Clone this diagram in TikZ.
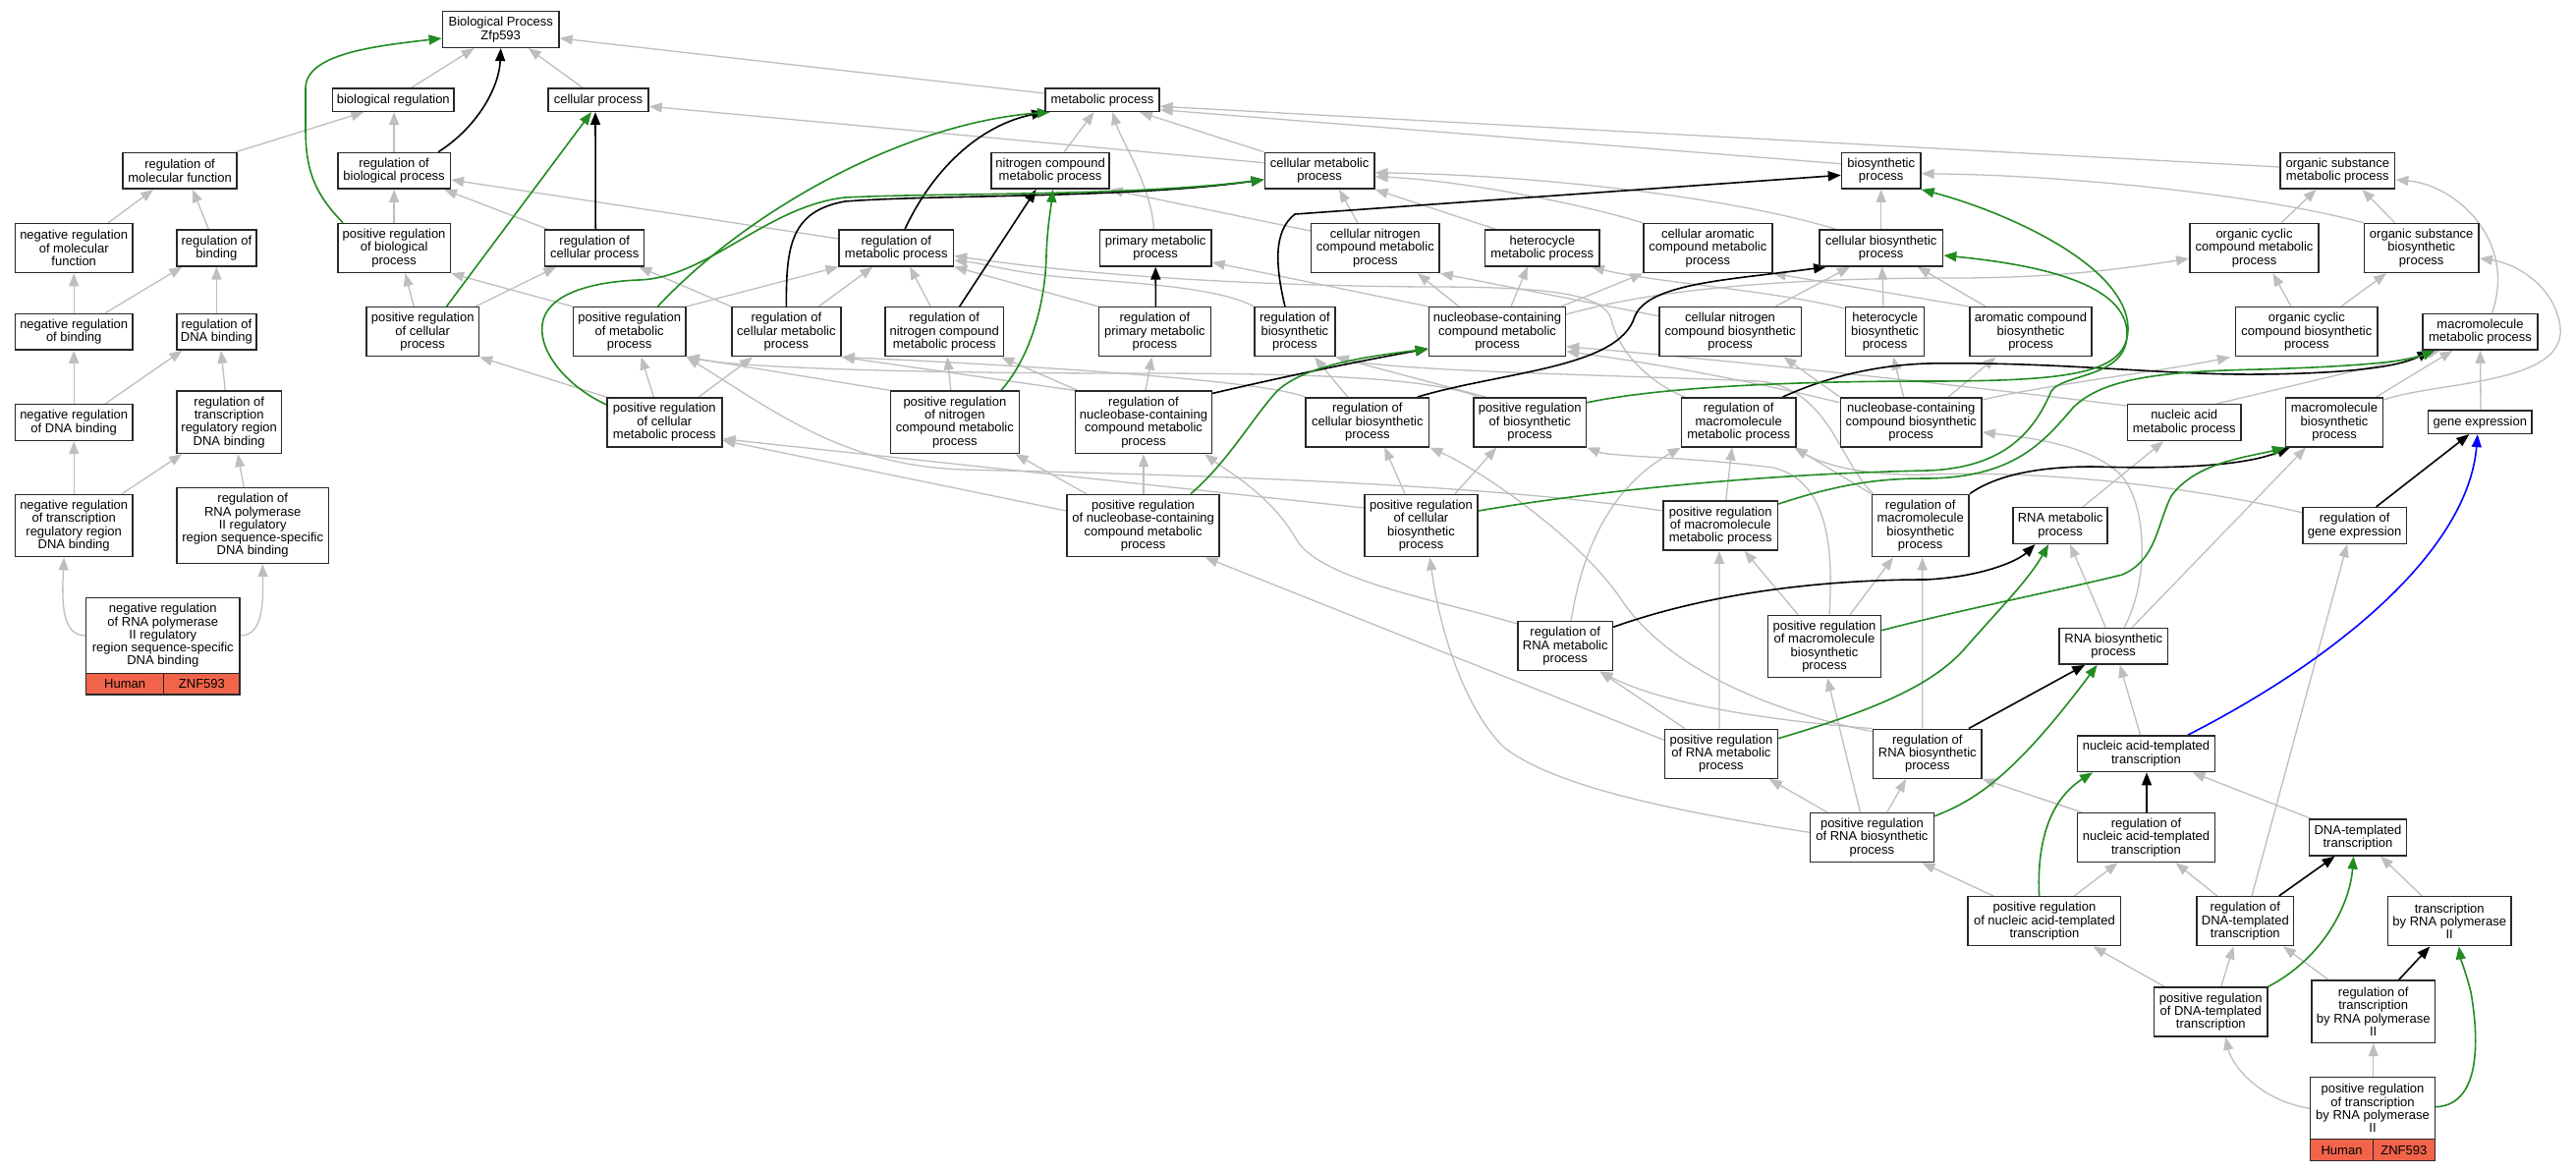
\documentclass[tikz,border=0pt]{standalone}
\usepackage{fontspec}
\setmainfont{Liberation Sans}
\usetikzlibrary{arrows.meta,calc}
\definecolor{egray}{RGB}{190,190,190}
\definecolor{egreen}{RGB}{34,139,34}
\definecolor{tomato}{RGB}{242,100,74}
\definecolor{bord}{RGB}{40,40,40}
\pgfdeclarelayer{back}
\pgfdeclarelayer{edges}
\pgfsetlayers{back,edges,main}
\newcommand{\gvfont}{\fontsize{13}{13.3}\selectfont}
\newcommand{\gobox}[6]{\node[gobox,minimum width=#4pt,minimum height=#5pt] (#1) at (#2,#3) {#6};}
\newcommand{\goup}[5][eisa]{\draw[#1] ($(#2.north)+(#3,0)$) -- ($(#4.south)+(#5,0)$);}
\begin{document}
\begin{tikzpicture}[x=1pt,y=-1pt,
 gobox/.style={draw=bord,line width=1.5pt,fill=white,inner sep=0pt,align=center,font=\gvfont},
 cell/.style={draw=bord,line width=1.5pt,fill=tomato,inner sep=0pt,font=\gvfont},
 eisa/.style={draw=egray,line width=1.3pt,-{Triangle[length=13pt,width=10pt]}},
 ereg/.style={draw=black,line width=1.6pt,-{Triangle[length=13pt,width=10pt]}},
 epos/.style={draw=egreen,line width=1.6pt,-{Triangle[length=13pt,width=10pt]}},
 epart/.style={draw=blue,line width=1.6pt,-{Triangle[length=13pt,width=10pt]}}]
\useasboundingbox (0,0) rectangle (2622,1192);
\begin{pgfonlayer}{back}
\fill[white] (0,0) rectangle (2622,1192);
\end{pgfonlayer}
% ---------- nodes ----------
\gobox{bp}{509.7}{30}{118.7}{36.7}{Biological Process\\Zfp593}
\gobox{breg}{400.3}{101.7}{123.7}{23.3}{biological regulation}
\gobox{cellp}{609}{101.7}{102}{23.3}{cellular process}
\gobox{metab}{1121.9}{101.7}{116.2}{23.3}{metabolic process}
\gobox{rmf}{183.1}{173.8}{116.2}{36.7}{regulation of\\molecular function}
\gobox{rbp}{401.1}{173.8}{114.4}{36.7}{regulation of\\biological process}
\gobox{ncmp}{1069.1}{173.8}{120}{36.7}{nitrogen compound\\metabolic process}
\gobox{cmp}{1343.1}{173.8}{111.6}{36.7}{cellular metabolic\\process}
\gobox{bsp}{1914.7}{173.8}{80.4}{36.7}{biosynthetic\\process}
\gobox{osmp}{2379.3}{173.8}{116.6}{36.7}{organic substance\\metabolic process}
\gobox{nrmf}{75.2}{252.5}{119.1}{50}{negative regulation\\of molecular\\function}
\gobox{rbind}{220.4}{252.5}{81.3}{36.7}{regulation of\\binding}
\gobox{prbp}{401.1}{252.5}{114.4}{50}{positive regulation\\of biological\\process}
\gobox{rcp}{605.2}{252.5}{101}{36.7}{regulation of\\cellular process}
\gobox{rmp}{912.3}{252.5}{116.2}{36.7}{regulation of\\metabolic process}
\gobox{pmp}{1176.2}{252.5}{113.6}{36.7}{primary metabolic\\process}
\gobox{cncmp}{1399.8}{252.5}{130.5}{50}{cellular nitrogen\\compound metabolic\\process}
\gobox{hmp}{1569.8}{252.5}{116.2}{36.7}{heterocycle\\metabolic process}
\gobox{camp}{1738.4}{252.5}{130.9}{50}{cellular aromatic\\compound metabolic\\process}
\gobox{cbp}{1914.7}{252.5}{125.8}{36.7}{cellular biosynthetic\\process}
\gobox{occmp}{2294.5}{252.5}{131.4}{50}{organic cyclic\\compound metabolic\\process}
\gobox{osbp}{2464.7}{252.5}{116.6}{50}{organic substance\\biosynthetic\\process}
\gobox{nrbind}{75.2}{337.7}{119.1}{36.7}{negative regulation\\of binding}
\gobox{rdnab}{220.4}{337.7}{81.3}{36.7}{regulation of\\DNA binding}
\gobox{prcp}{430.2}{337.7}{114.5}{50}{positive regulation\\of cellular\\process}
\gobox{prmp}{640.7}{337.7}{114.7}{50}{positive regulation\\of metabolic\\process}
\gobox{rcmp}{800.4}{337.7}{111.1}{50}{regulation of\\cellular metabolic\\process}
\gobox{rncmp}{961.2}{337.7}{120.3}{50}{regulation of\\nitrogen compound\\metabolic process}
\gobox{rpmp}{1175.4}{337.7}{113.7}{50}{regulation of\\primary metabolic\\process}
\gobox{rbsp}{1317.9}{337.7}{82.1}{50}{regulation of\\biosynthetic\\process}
\gobox{nccmp}{1524}{337.7}{138.9}{50}{nucleobase-containing\\compound metabolic\\process}
\gobox{cncbp}{1761.1}{337.7}{144.4}{50}{cellular nitrogen\\compound biosynthetic\\process}
\gobox{hbp}{1918.5}{337.7}{80.4}{50}{heterocycle\\biosynthetic\\process}
\gobox{acbp}{2067}{337.7}{124.2}{50}{aromatic compound\\biosynthetic\\process}
\gobox{occbp}{2347.8}{337.7}{144.3}{50}{organic cyclic\\compound biosynthetic\\process}
\gobox{mmp}{2524.5}{337.7}{116.6}{36.7}{macromolecule\\metabolic process}
\gobox{nrdnab}{75.2}{430}{119.1}{36.7}{negative regulation\\of DNA binding}
\gobox{rtrdb}{233.2}{429.8}{106.9}{63.3}{regulation of\\transcription\\regulatory region\\DNA binding}
\gobox{prcmp}{676.3}{429.8}{116.9}{50}{positive regulation\\of cellular\\metabolic process}
\gobox{prncmp}{971.9}{429.8}{130.9}{63.3}{positive regulation\\of nitrogen\\compound metabolic\\process}
\gobox{rnccmp}{1164}{429.8}{138.9}{63.3}{regulation of\\nucleobase-containing\\compound metabolic\\process}
\gobox{rcbp}{1391.8}{429.8}{125.5}{50}{regulation of\\cellular biosynthetic\\process}
\gobox{prbsp}{1557.2}{429.8}{114.5}{50}{positive regulation\\of biosynthetic\\process}
\gobox{rmmp}{1769.7}{429.8}{116.2}{50}{regulation of\\macromolecule\\metabolic process}
\gobox{nccbp}{1945.2}{429.8}{143.9}{50}{nucleobase-containing\\compound biosynthetic\\process}
\gobox{namp}{2223.2}{430}{115.7}{36.7}{nucleic acid\\metabolic process}
\gobox{mbp}{2376}{429.8}{98.9}{50}{macromolecule\\biosynthetic\\process}
\gobox{gexp}{2524.3}{429.7}{105.2}{23.3}{gene expression}
\gobox{nrtrdb}{75.2}{535}{119.1}{63.3}{negative regulation\\of transcription\\regulatory region\\DNA binding}
\gobox{rrp2}{257.2}{535}{154.9}{76.7}{regulation of\\RNA polymerase\\II regulatory\\region sequence-specific\\DNA binding}
\gobox{prnccmp}{1163.6}{535}{154.9}{63.3}{positive regulation\\of nucleobase-containing\\compound metabolic\\process}
\gobox{prcbp}{1446.5}{535}{115.3}{63.3}{positive regulation\\of cellular\\biosynthetic\\process}
\gobox{prmmp}{1751.2}{535}{116.2}{50}{positive regulation\\of macromolecule\\metabolic process}
\gobox{rmbp}{1954.7}{535}{98.9}{63.3}{regulation of\\macromolecule\\biosynthetic\\process}
\gobox{rnamp}{2097.1}{535}{96}{36.7}{RNA metabolic\\process}
\gobox{rge}{2396.6}{535}{105.7}{36.7}{regulation of\\gene expression}
\gobox{nrp2}{165.8}{647}{156.6}{76.7}{negative regulation\\of RNA polymerase\\II regulatory\\region sequence-specific\\DNA binding}
\node[cell,minimum width=79.2pt,minimum height=21.7pt] (nrp2h) at (127.1,696.2) {Human};
\node[cell,minimum width=77.4pt,minimum height=21.7pt] (nrp2z) at (205.4,696.2) {ZNF593};
\gobox{rrnamp}{1593.2}{657.7}{96.3}{50}{regulation of\\RNA metabolic\\process}
\gobox{prmbp}{1857}{658}{114.9}{63.3}{positive regulation\\of macromolecule\\biosynthetic\\process}
\gobox{rnabp}{2151.2}{657.7}{110.7}{36.7}{RNA biosynthetic\\process}
\gobox{prrnamp}{1751.9}{767.3}{114.9}{50}{positive regulation\\of RNA metabolic\\process}
\gobox{rrnabp}{1961.8}{767.3}{110.6}{50}{regulation of\\RNA biosynthetic\\process}
\gobox{nat}{2184.5}{767.2}{140.1}{36.7}{nucleic acid-templated\\transcription}
\gobox{prrnabp}{1905.4}{852.5}{125.8}{50}{positive regulation\\of RNA biosynthetic\\process}
\gobox{rnat}{2184.5}{852.5}{140.1}{50}{regulation of\\nucleic acid-templated\\transcription}
\gobox{dtt}{2400}{852.5}{98.9}{36.7}{DNA-templated\\transcription}
\gobox{prnat}{2080.9}{937.7}{155.4}{50}{positive regulation\\of nucleic acid-templated\\transcription}
\gobox{rdtt}{2285.3}{937.7}{98.5}{50}{regulation of\\DNA-templated\\transcription}
\gobox{trp2}{2493.2}{937.7}{125.5}{50}{transcription\\by RNA polymerase\\II}
\gobox{prdtt}{2250.3}{1030}{115.4}{50}{positive regulation\\of DNA-templated\\transcription}
\gobox{rtrp2}{2415.7}{1029.7}{125.4}{63.3}{regulation of\\transcription\\by RNA polymerase\\II}
\gobox{prtrp2}{2415}{1128}{126.7}{63.3}{positive regulation\\of transcription\\by RNA polymerase\\II}
\node[cell,minimum width=63.6pt,minimum height=22pt] (prtrp2h) at (2383.5,1170.7) {Human};
\node[cell,minimum width=63.1pt,minimum height=22pt] (prtrp2z) at (2446.85,1170.7) {ZNF593};
% ---------- edges ----------
\begin{pgfonlayer}{edges}
% straight is_a edges
\goup{breg}{18.5}{bp}{-27}
\goup{cellp}{-16}{bp}{28}
\goup{rmf}{57}{breg}{-30}
\goup{rbp}{0}{breg}{0.8}
\goup{nrmf}{35}{rmf}{-27}
\goup{rbind}{-8}{rmf}{13}
\goup{nrbind}{0}{nrmf}{0}
\goup{nrbind}{32}{rbind}{-35}
\goup{rdnab}{0}{rbind}{0}
\goup{prbp}{0}{rbp}{0}
\goup{rcp}{-47.5}{rbp}{51}
\goup{prcp}{-9}{prbp}{11.4}
\goup{prcp}{54}{rcp}{-39}
\goup{ncmp}{14}{metab}{-8.4}
\goup{rncmp}{-14}{rmp}{13.7}
\goup{rcmp}{33}{rmp}{-24}
\goup{cncmp}{-18}{cmp}{20}
\goup{cbp}{0}{bsp}{0}
\goup{nccmp}{-39}{cncmp}{43}
\goup{nccmp}{14}{hmp}{-15}
\goup{cncbp}{46}{cbp}{-31.7}
\goup{hbp}{-1.5}{cbp}{1}
\goup{acbp}{-46}{cbp}{37}
\goup{occmp}{27.5}{osmp}{-21.7}
\goup{osbp}{-27}{osmp}{25}
\goup{occbp}{-15.8}{occmp}{19}
\goup{occbp}{35}{osbp}{-35.7}
\goup{nrdnab}{0}{nrbind}{0}
\goup{nrdnab}{32}{rdnab}{-35}
\goup{rtrdb}{-4}{rdnab}{4.6}
\goup{nrtrdb}{0}{nrdnab}{0}
\goup{nrtrdb}{49}{rtrdb}{-48}
\goup{rrp2}{-9}{rtrdb}{8.8}
\goup{rnccmp}{2}{rpmp}{-3}
\goup{prcmp}{-11}{prmp}{12}
\goup{prcmp}{35}{rcmp}{-34.4}
\goup{prncmp}{-4}{rncmp}{3}
\goup{prnccmp}{0.4}{rnccmp}{0}
\goup{prnccmp}{-58}{prncmp}{61.6}
\goup{rcbp}{-20}{rbsp}{20}
\goup{prcbp}{-16.5}{rcbp}{17.5}
\goup{prcbp}{34.5}{prbsp}{-34}
\goup{prmmp}{5.5}{rmmp}{-6.7}
\goup{nccbp}{-7.6}{hbp}{8.5}
\goup{nccbp}{38}{acbp}{-35.6}
\goup{rnamp}{23}{namp}{-21}
\goup{gexp}{0.7}{mmp}{0}
\goup{prmbp}{26}{rmbp}{-27.7}
\goup{prmbp}{-27}{prmmp}{24.4}
\goup{prrnamp}{-37}{rrnamp}{35}
\goup{prrnamp}{-2}{prmmp}{-1.2}
\goup{rrnabp}{-5}{rmbp}{2}
\goup{rnabp}{-8}{rnamp}{10}
\goup{rnabp}{19}{mbp}{-29}
\goup{nat}{-6}{rnabp}{6.5}
\goup{prrnabp}{15.4}{rrnabp}{-21.8}
\goup{prrnabp}{-45.6}{prrnamp}{49}
\goup{prrnabp}{-12}{prmbp}{3}
\goup{prnat}{30.5}{rnat}{-29}
\goup{prnat}{-52}{prrnabp}{51}
\goup{rdtt}{-28.7}{rnat}{30}
\goup{rdtt}{6.7}{rge}{-7.6}
\goup{trp2}{-28}{dtt}{23}
\goup{prdtt}{10.5}{rdtt}{-12}
\goup{rtrp2}{-45.7}{rdtt}{38.7}
\goup{prtrp2}{0.7}{rtrp2}{0}
\goup{namp}{33.4}{mmp}{-40.5}
\goup{mbp}{42.6}{mmp}{-28}
% other is_a edges
\draw[eisa] ($(metab.west)+(0,-6.7)$) -- ($(bp.east)+(0,9)$);
\draw[eisa] ($(rmp.west)+(0,-9.5)$) -- ($(rbp.east)+(0,9.2)$);
\draw[eisa] (prmp.north west) -- (prbp.south east);
\draw[eisa] (rcmp.north west) -- ($(rcp.south)+(45,0)$);
\draw[eisa] (prmp.north east) -- (rmp.south west);
\draw[eisa] (rpmp.north west) -- (rmp.south east);
\draw[eisa] (cmp.north west) -- ($(metab.south)+(38,0)$);
\draw[eisa] ($(cmp.west)+(0,-8.1)$) -- ($(cellp.east)+(0,6.6)$);
\draw[eisa] ($(bsp.west)+(0,-7.1)$) -- ($(metab.east)+(0,10)$);
\draw[eisa] ($(osmp.west)+(0,-3.8)$) -- ($(metab.east)+(0,6.6)$);
\draw[eisa] ($(pmp.north)+(-1.7,0)$) .. controls (1172,190) and (1140,140) .. ($(metab.south)+(10.5,0)$);
\draw[eisa] (nccmp.north west) -- ($(pmp.east)+(0,14.5)$);
\draw[eisa] ($(cncmp.west)+(0,-17.5)$) -- (ncmp.south east);
\draw[eisa] ($(hmp.north)+(-47,0)$) -- (cmp.south east);
\draw[eisa] (camp.north west) .. controls (1600,205) and (1480,183) .. ($(cmp.east)+(0,6)$);
\draw[eisa] ($(cbp.north west)+(18,0)$) .. controls (1760,200) and (1560,178) .. ($(cmp.east)+(0,2)$);
\draw[eisa] ($(nccmp.north east)+(-5,0)$) -- (camp.south west);
\draw[eisa] ($(nccmp.east)+(0,-17.7)$) .. controls (1700,290) and (1850,283) .. (1990,283) .. controls (2100,283) and (2170,272) .. ($(occmp.west)+(0,10.8)$);
\draw[eisa] ($(cncbp.west)+(0,-16)$) -- (cncmp.south east);
\draw[eisa] ($(hbp.north west)+(0,2)$) .. controls (1800,295) and (1680,287) .. ($(hmp.south)+(50,0)$);
\draw[eisa] (acbp.north west) -- (camp.south east);
\draw[eisa] (osbp.north west) .. controls (2300,198) and (2100,178) .. ($(bsp.east)+(0,3)$);
\draw[eisa] ($(mmp.north)+(12,0)$) .. controls (2562,245) and (2500,188) .. ($(osmp.east)+(0,9.2)$);
\draw[eisa] (rbsp.north west) .. controls (1240,292) and (1150,288) .. (1080,282) .. controls (1030,277) and (1000,268) .. ($(rmp.east)+(0,12.5)$);
\draw[eisa] ($(rmmp.north west)+(4,0)$) .. controls (1680,390) and (1648,360) .. (1640,325) .. controls (1632,296) and (1560,292) .. (1450,292) .. controls (1200,290) and (1050,272) .. ($(rmp.east)+(0,8)$);
\draw[eisa] (rnccmp.north west) -- (rcmp.south east);
\draw[eisa] ($(rnccmp.north west)+(3,0)$) -- ($(rncmp.south)+(58,0)$);
\draw[eisa] (prcmp.north west) -- (prcp.south east);
\draw[eisa] (prncmp.north west) -- (prmp.south east);
\draw[eisa] ($(prnccmp.west)+(0,-15)$) -- ($(prcmp.east)+(0,18.5)$);
\draw[eisa] (rcbp.north west) .. controls (1280,385) and (1000,370) .. (rcmp.south east);
\draw[eisa] ($(prbsp.north west)+(13,0)$) -- (rbsp.south east);
\draw[eisa] ($(prbsp.north west)+(6,0)$) .. controls (1450,382) and (1300,380) .. (1150,380) .. controls (950,380) and (760,375) .. (prmp.south east);
\draw[eisa] ($(nccbp.west)+(0,-20)$) .. controls (1800,392) and (1700,372) .. ($(nccmp.east)+(0,20)$);
\draw[eisa] ($(namp.west)+(0,-17)$) .. controls (1960,388) and (1750,366) .. ($(nccmp.east)+(0,15)$);
\draw[eisa] ($(nccbp.north east)+(0,3)$) .. controls (2080,392) and (2200,378) .. ($(occbp.south west)+(-5,0)$);
\draw[eisa] (nccbp.north west) -- ($(cncbp.south)+(54.5,0)$);
\draw[eisa] ($(mbp.north east)+(0,3)$) .. controls (2480,388) and (2612,392) .. (2606,333) .. controls (2600,290) and (2560,268) .. ($(osbp.east)+(0,10.5)$);
\draw[eisa] (rmbp.north west) -- ($(rmmp.south east)+(-2,0)$);
\draw[eisa] ($(rmbp.north west)+(2,0)$) .. controls (1872,470) and (1862,395) .. (1790,388) .. controls (1650,382) and (1420,378) .. (rbsp.south east);
\draw[eisa] ($(rge.west)+(0,-13.3)$) .. controls (2250,500) and (2100,478) .. (1962,483) .. controls (1890,485) and (1850,470) .. ($(rmmp.south east)+(-2,0)$);
\draw[eisa] ($(rrnamp.north west)+(0,3)$) .. controls (1460,610) and (1345,590) .. (1320,550) .. controls (1295,505) and (1250,480) .. ($(rnccmp.south east)+(-8,0)$);
\draw[eisa] ($(rrnamp.north)+(6,0)$) .. controls (1610,560) and (1640,495) .. (rmmp.south west);
\draw[eisa] ($(prcbp.west)+(0,-18)$) -- ($(prcmp.east)+(0,17)$);
\draw[eisa] ($(prmmp.west)+(0,-15)$) .. controls (1500,490) and (1150,482) .. (980,478) .. controls (860,474) and (790,420) .. (prmp.south east);
\draw[eisa] ($(prmbp.north)+(5,0)$) .. controls (1866,560) and (1862,490) .. (1805,476) .. controls (1720,465) and (1640,465) .. (prbsp.south east);
\draw[eisa] (rrnabp.north west) .. controls (1820,735) and (1700,720) .. ($(rrnamp.south)+(35,0)$);
\draw[eisa] ($(rrnabp.north west)+(0,3)$) .. controls (1780,720) and (1690,670) .. (1650,610) .. controls (1610,550) and (1510,480) .. (rcbp.south east);
\draw[eisa] ($(prrnamp.west)+(0,-14)$) -- ($(prnccmp.south east)+(-15,0)$);
\draw[eisa] ($(prrnabp.west)+(0,-5.2)$) .. controls (1700,825) and (1580,800) .. (1530,760) .. controls (1490,720) and (1465,640) .. ($(prcbp.south)+(9,0)$);
\draw[eisa] ($(rnabp.north)+(11,0)$) .. controls (2188,590) and (2185,515) .. (2160,485) .. controls (2130,452) and (2060,445) .. ($(nccbp.east)+(0,10.2)$);
\draw[eisa] ($(rnat.north west)+(5,0)$) -- (rrnabp.south east);
\draw[eisa] ($(dtt.north west)+(3,0)$) -- ($(nat.south)+(47,0)$);
\draw[eisa] ($(prdtt.north west)+(11,0)$) -- ($(prnat.south)+(49.5,0)$);
\draw[eisa] ($(prtrp2.west)+(0,0.3)$) .. controls (2300,1120) and (2272,1085) .. ($(prdtt.south)+(15,0)$);
\draw[eisa] (nrp2.west) .. controls (62,647) and (63,610) .. ($(nrtrdb.south)+(-10,0)$);
\draw[eisa] (nrp2.east) .. controls (268,647) and (268,612) .. ($(rrp2.south)+(10,0)$);
% regulates (black)
\draw[ereg] ($(rbp.north)+(45,0)$) .. controls (485,130) and (508,90) .. (bp.south);
\goup[ereg]{rcp}{1}{cellp}{-3}
\goup[ereg]{rncmp}{15.5}{ncmp}{-14.5}
\goup[ereg]{rpmp}{1}{pmp}{0}
\goup[ereg]{rge}{22}{gexp}{-11}
\goup[ereg]{rrnabp}{42}{rnabp}{-29}
\goup[ereg]{rnat}{0.5}{nat}{0.5}
\goup[ereg]{rdtt}{34.4}{dtt}{-23.4}
\goup[ereg]{rtrp2}{26}{trp2}{-20}
\draw[ereg] ($(rmp.north)+(8.7,0)$) .. controls (948,175) and (995,128) .. (metab.south west);
\draw[ereg] (rcmp.north) .. controls (800,250) and (805,215) .. (860,205) .. controls (950,198) and (1150,202) .. ($(cmp.west)+(0,9)$);
\draw[ereg] ($(rbsp.north)+(-10,0)$) .. controls (1298,270) and (1296,235) .. (1318,218) -- ($(bsp.west)+(0,4.5)$);
\draw[ereg] ($(rcbp.north)+(51,0)$) .. controls (1530,378) and (1648,375) .. (1664,322) .. controls (1678,288) and (1760,285) .. ($(cbp.south west)+(8,0)$);
\draw[ereg] ($(rnccmp.north east)+(0,3)$) .. controls (1300,385) and (1380,368) .. ($(nccmp.west)+(0,17.3)$);
\draw[ereg] ($(rmmp.north east)+(-14,0)$) .. controls (1850,388) and (1900,372) .. (1962,370) .. controls (2100,368) and (2200,382) .. (2300,381) .. controls (2400,380) and (2445,372) .. ($(mmp.south west)+(8,0)$);
\draw[ereg] (rmbp.north east) .. controls (2030,485) and (2070,475) .. (2130,475) .. controls (2200,477) and (2280,476) .. ($(mbp.south west)+(5,0)$);
\draw[ereg] ($(rrnamp.east)+(0,-19.4)$) .. controls (1750,600) and (1870,590) .. (1960,590) .. controls (2020,587) and (2055,570) .. ($(rnamp.south)+(-25.7,0)$);
% positively regulates (green)
\draw[epos] ($(prbp.north)+(-52,0)$) .. controls (318,195) and (311,170) .. (311,130) -- (311,90) .. controls (311,55) and (380,47) .. ($(bp.west)+(0,9)$);
\goup[epos]{prcp}{24.3}{cellp}{-7}
\draw[epos] ($(prcmp.west)+(0,-18)$) .. controls (580,395) and (548,360) .. (552,330) .. controls (556,300) and (600,287) .. (650,285) .. controls (720,283) and (780,210) .. (860,201) .. controls (960,196) and (1150,200) .. ($(cmp.west)+(0,9)$);
\draw[epos] ($(prmp.north)+(28.8,0)$) .. controls (760,215) and (920,125) .. ($(metab.south)+(-53,0)$);
\draw[epos] ($(prncmp.north)+(47,0)$) .. controls (1048,365) and (1064,310) .. (1065,260) .. controls (1066,230) and (1070,210) .. ($(ncmp.south)+(2.3,0)$);
\draw[epos] ($(prnccmp.north)+(48.4,0)$) .. controls (1250,470) and (1275,425) .. (1300,398) .. controls (1330,370) and (1400,362) .. ($(nccmp.west)+(0,17.3)$);
\draw[epos] ($(prbsp.east)+(0,-20)$) .. controls (1700,392) and (1850,388) .. (1962,388) .. controls (2110,388) and (2165,380) .. (2166,335) .. controls (2166,270) and (2040,215) .. (bsp.south east);
\draw[epos] ($(prcbp.east)+(0,-15)$) .. controls (1620,500) and (1800,482) .. (1962,479) .. controls (2040,476) and (2070,440) .. (2088,398) .. controls (2100,380) and (2165,385) .. (2165,340) .. controls (2165,290) and (2080,270) .. ($(cbp.east)+(0,7.5)$);
\draw[epos] ($(prmmp.east)+(0,-22)$) .. controls (1880,490) and (1920,487) .. (1962,487) .. controls (2050,486) and (2080,450) .. (2110,415) .. controls (2140,385) and (2200,378) .. (2300,376) .. controls (2400,373) and (2450,368) .. ($(mmp.south west)+(13,0)$);
\draw[epos] ($(prmbp.east)+(0,-16.3)$) .. controls (1990,622) and (2100,600) .. (2160,585) .. controls (2195,570) and (2195,535) .. (2210,505) .. controls (2235,470) and (2290,465) .. (mbp.south west);
\draw[epos] ($(prrnamp.east)+(0,-15.6)$) .. controls (1900,725) and (1965,700) .. (2000,660) .. controls (2035,620) and (2065,590) .. ($(rnamp.south)+(-12,0)$);
\draw[epos] ($(prrnabp.north east)+(0,4)$) .. controls (2010,815) and (2050,790) .. ($(rnabp.south)+(-16.6,0)$);
\draw[epos] ($(prnat.north)+(-5.3,0)$) .. controls (2073,860) and (2085,815) .. ($(nat.south)+(-54.5,0)$);
\draw[epos] (prdtt.north east) .. controls (2365,975) and (2392,920) .. ($(dtt.south)+(-4.5,0)$);
\draw[epos] ($(prtrp2.east)+(0,-1.3)$) .. controls (2528,1125) and (2522,1050) .. (2515,1010) .. controls (2510,990) and (2505,978) .. ($(trp2.south)+(9.6,0)$);
% part of (blue)
\draw[epart] ($(nat.north)+(42.5,0)$) .. controls (2380,670) and (2512,560) .. ($(gexp.south)+(-2.5,0)$);
\end{pgfonlayer}
\end{tikzpicture}
\end{document}
